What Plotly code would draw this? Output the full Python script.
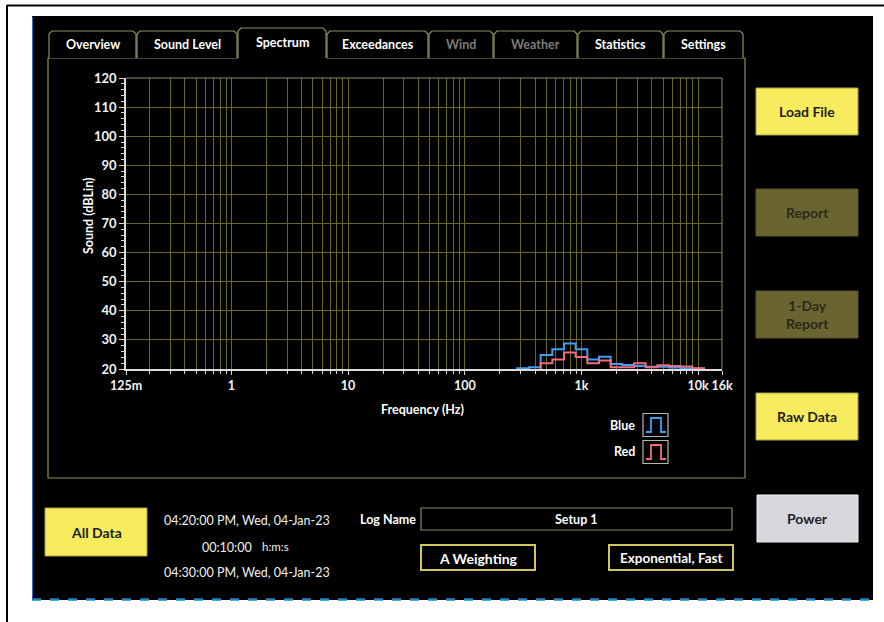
import math
import plotly.graph_objects as go

# ---- data -------------------------------------------------------------
band_centres = [250, 315, 400, 500, 630, 800, 1000, 1250, 1600, 2000,
                2500, 3150, 4000, 5000, 6300, 8000, 10000]
blue_db = [20.0, 20.3, 20.6, 24.8, 26.8, 28.8, 26.8, 23.3, 24.2, 21.7,
           21.4, 21.0, 20.8, 20.8, 20.5, 20.3, 20.2]
red_db = [20.0, 20.0, 20.0, 22.0, 23.3, 25.7, 24.1, 22.0, 22.9, 20.6,
          20.6, 22.0, 20.6, 21.3, 21.0, 20.9, 20.3]

x_tickvals = [0.125, 1, 10, 100, 1000, 10000, 16000]
x_ticktext = ["125m", "1", "10", "100", "1k", "10k", "16k"]
y_range = [20, 120]

tab_names = ["Overview", "Sound Level", "Spectrum", "Exceedances",
             "Wind", "Weather", "Statistics", "Settings"]
tab_bounds = [49, 137, 238, 327, 429, 494, 578, 664, 744]
active_tab = "Spectrum"
disabled_tabs = {"Wind", "Weather"}

# ---- page geometry (pixels) --------------------------------------------
W, H = 884, 622
PX0, PX1 = 126, 722
PY0, PY1 = 78, 369

FONT = "Lato"
BLUE = "#3f9ff2"
RED = "#f26b7d"
GRID = "#6a6724"
OLIVE_LINE = "#8e8e62"
YELLOW = "#f6ec5e"
DARK_OLIVE = "#6a6430"


def px(x):
    return (x - PX0) / (PX1 - PX0)


def py(y):
    return (PY1 - y) / (PY1 - PY0)


def band_edges(fc):
    n = round(10 * math.log10(fc / 1000))
    return 1000 * 10 ** ((n - 0.5) / 10), 1000 * 10 ** ((n + 0.5) / 10)


def step_xy(centres, levels, floor=20):
    start = next(i for i, v in enumerate(levels) if v > floor)
    cs, vs = centres[start:], levels[start:]
    lows = [band_edges(c)[0] for c in cs]
    high = band_edges(cs[-1])[1]
    xs = [lows[0]] + lows + [high, high]
    ys = [floor] + vs + [vs[-1], floor]
    return xs, ys


shapes = []
annotations = []


def rect(x0, y0, x1, y1, fill=None, line=None, lw=1, layer="below"):
    shapes.append(dict(
        type="rect", xref="paper", yref="paper",
        x0=px(x0), x1=px(x1), y0=py(y1), y1=py(y0),
        fillcolor=fill if fill else "rgba(0,0,0,0)",
        line=dict(color=line if line else "rgba(0,0,0,0)", width=lw if line else 0),
        layer=layer))


def seg(x0, y0, x1, y1, color, lw=1, dash=None, layer="below"):
    ln = dict(color=color, width=lw)
    if dash:
        ln["dash"] = dash
    shapes.append(dict(type="line", xref="paper", yref="paper",
                       x0=px(x0), x1=px(x1), y0=py(y0), y1=py(y1),
                       line=ln, layer=layer))


def path(points, color, lw=1, fill=None, closed=False, layer="below"):
    d = "M " + " L ".join(f"{px(a):.5f},{py(b):.5f}" for a, b in points)
    if closed:
        d += " Z"
    shapes.append(dict(type="path", xref="paper", yref="paper", path=d,
                       line=dict(color=color, width=lw),
                       fillcolor=fill if fill else "rgba(0,0,0,0)",
                       layer=layer))


def text(x, y, s, size=12, color="white", bold=True, anchor="center", angle=0):
    annotations.append(dict(
        xref="paper", yref="paper", x=px(x), y=py(y), text=s,
        showarrow=False, xanchor=anchor, yanchor="middle", textangle=angle,
        font=dict(family=FONT, size=size, color=color,
                  weight="bold" if bold else "normal")))


# ---- window frame ------------------------------------------------------
seg(7, 5.5, 884, 5.5, "black", 2)
seg(7, 5, 7, 622, "black", 2)
rect(32, 16, 873, 600, fill="black")
seg(32.5, 17, 32.5, 598, "#2a6fb4", 1)
seg(32, 599.5, 873, 599.5, "#1f86c8", 2.5, dash="dash")

# ---- tab panel ---------------------------------------------------------
act = tab_names.index(active_tab)
panel_top = 58
seg(48, panel_top, 48, 478, OLIVE_LINE, 1.2)
seg(745, panel_top, 745, 478, OLIVE_LINE, 1.2)
seg(48, 478, 745, 478, OLIVE_LINE, 1.2)
seg(48, panel_top, tab_bounds[act], panel_top, OLIVE_LINE, 1.2)
seg(tab_bounds[act + 1], panel_top, 745, panel_top, OLIVE_LINE, 1.2)

for i, name in enumerate(tab_names):
    x0, x1 = tab_bounds[i], tab_bounds[i + 1] - 1
    top = 28 if i == act else 31
    r = 3
    pts = [(x0, panel_top), (x0, top + r), (x0 + r, top), (x1 - r, top),
           (x1, top + r), (x1, panel_top)]
    path(pts, OLIVE_LINE, 1.2, fill="black")
    col = "#7c7c7c" if name in disabled_tabs else "white"
    text((x0 + x1) / 2, 43 if i == act else 45, name, size=12.5, color=col)

# ---- plot frame (top / right edges) ------------------------------------
seg(PX0, PY0, PX1, PY0, "#8a8a70", 1, layer="above")
seg(PX1, PY0, PX1, PY1, "#8a8a70", 1, layer="above")

# ---- axis titles -------------------------------------------------------
text(88, 216, "Sound (dBLin)", size=12.5, angle=-90)
text(422, 409, "Frequency (Hz)", size=12.5)

# ---- legend ------------------------------------------------------------
for label, colour, yc in (("Blue", BLUE, 425), ("Red", RED, 452)):
    text(637, yc, label, size=12.5, anchor="right")
    rect(643, yc - 11.5, 668, yc + 11.5, fill="black", line="#b4b4b4", lw=1.2)
    path([(646, yc + 7), (651, yc + 7), (651, yc - 7), (661, yc - 7),
          (661, yc + 7), (666, yc + 7)], colour, 1.8)

# ---- right-hand buttons ------------------------------------------------
def button(x0, y0, x1, y1, label, fill, fg, border):
    rect(x0, y0, x1, y1, fill=fill, line=border, lw=1)
    text((x0 + x1) / 2, (y0 + y1) / 2, label, size=14, color=fg)


button(756, 88, 858, 135, "Load File", YELLOW, "#1e1e1e", "#a8a040")
button(756, 189, 858, 236, "Report", DARK_OLIVE, "#2a2a1a", "#5a5628")
button(756, 291, 858, 338, "1-Day<br>Report", DARK_OLIVE, "#2a2a1a", "#5a5628")
button(756, 393, 858, 440, "Raw Data", YELLOW, "#1e1e1e", "#a8a040")
button(757, 495, 858, 542, "Power", "#d6d6dc", "#222222", "#f2f2f2")
button(45, 508, 147, 556, "All Data", YELLOW, "#1e1e1e", "#a8a040")

# ---- time range / log info ---------------------------------------------
text(247, 520, "04:20:00 PM, Wed, 04-Jan-23", size=12.5, bold=False, color="#f0f0f0")
text(227, 547, "00:10:00", size=12.5, bold=False, color="#f0f0f0")
text(275, 546, "h:m:s", size=11.5, bold=False, color="#f0f0f0")
text(247, 572, "04:30:00 PM, Wed, 04-Jan-23", size=12.5, bold=False, color="#f0f0f0")

text(418, 519, "Log Name", size=12.5, anchor="right")
rect(421, 508, 732, 530, fill="black", line="#8a8a62", lw=1.2)
text(576, 519, "Setup 1", size=12.5)
rect(421, 545, 535, 570, fill="black", line="#cfc65c", lw=2)
text(478, 558, "A Weighting", size=14)
rect(609, 545, 733, 570, fill="black", line="#cfc65c", lw=2)
text(671, 558, "Exponential, Fast", size=13.5)

# ---- spectrum traces ---------------------------------------------------
fig = go.Figure()
for name, levels, colour in (("Blue", blue_db, BLUE), ("Red", red_db, RED)):
    xs, ys = step_xy(band_centres, levels, floor=y_range[0])
    fig.add_trace(go.Scatter(x=xs, y=ys, mode="lines", name=name,
                             line=dict(color=colour, width=2, shape="hv"),
                             hoverinfo="skip"))

minor_x = [k * 10 ** d for d in range(-1, 4) for k in range(2, 10)
           if 0.125 < k * 10 ** d < 10000]

fig.update_layout(
    width=W, height=H, autosize=False,
    margin=dict(l=PX0, r=W - PX1, t=PY0, b=H - PY1, pad=0),
    paper_bgcolor="white", plot_bgcolor="black",
    showlegend=False,
    font=dict(family=FONT, color="#f0f0f0"),
    shapes=shapes, annotations=annotations,
    xaxis=dict(
        type="log",
        range=[math.log10(0.125), math.log10(16000)],
        tickmode="array", tickvals=x_tickvals, ticktext=x_ticktext,
        tickangle=0,
        ticks="outside", ticklen=4, tickcolor="#d8d8d8", tickwidth=1,
        tickfont=dict(family=FONT, size=12.5, color="#f4f4f4", weight="bold"),
        showgrid=True, gridcolor=GRID, gridwidth=1,
        showline=True, linecolor="#dcdcdc", linewidth=1.8,
        zeroline=False,
        minor=dict(tickmode="array", tickvals=minor_x, ticks="outside",
                   ticklen=3, tickcolor="#d8d8d8", showgrid=True,
                   gridcolor=GRID, gridwidth=1),
    ),
    yaxis=dict(
        range=y_range, dtick=10, tick0=20,
        ticks="outside", ticklen=5, tickcolor="#d8d8d8", tickwidth=1,
        tickfont=dict(family=FONT, size=13, color="#f4f4f4", weight="bold"),
        showgrid=True, gridcolor=GRID, gridwidth=1,
        showline=True, linecolor="#dcdcdc", linewidth=1.8,
        zeroline=False,
        minor=dict(dtick=2, ticks="outside", ticklen=3, tickcolor="#d8d8d8",
                   showgrid=False),
    ),
)

fig.write_html("out.html")
